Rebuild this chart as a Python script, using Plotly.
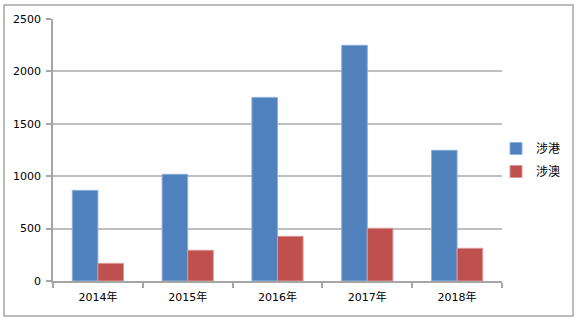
import plotly.graph_objects as go

categories = ["2014年", "2015年", "2016年", "2017年", "2018年"]
hk_values = [865, 1018, 1752, 2249, 1247]
mo_values = [168, 293, 426, 503, 312]
series_names = ["涉港", "涉澳"]
y_ticks = [0, 500, 1000, 1500, 2000, 2500]

W, H = 578, 322
L, R, T, B = 53, 76, 19, 41
pw, ph = W - L - R, H - T - B

def px_x(p):
    return (p - L) / pw

def px_y(p):
    return (H - B - p) / ph

fig = go.Figure()
fig.add_trace(go.Bar(x=categories, y=hk_values, name=series_names[0], legendgroup="a",
                     marker=dict(color="#4F81BD", line=dict(color="#8EB0DA", width=1))))
fig.add_trace(go.Bar(x=categories, y=mo_values, name=series_names[1], legendgroup="b",
                     marker=dict(color="#C0504D", line=dict(color="#DA9695", width=1))))

fig.update_layout(
    width=W, height=H,
    margin=dict(l=L, r=R, t=T, b=B, pad=0, autoexpand=False),
    paper_bgcolor="white", plot_bgcolor="white",
    barmode="group", bargap=0.43, bargroupgap=0,
    font=dict(family="DejaVu Sans, Noto Sans CJK SC", size=11, color="black"),
    showlegend=True,
    legend=dict(x=px_x(496), y=px_y(160), xanchor="left", yanchor="middle",
                font=dict(family="Noto Sans CJK SC", size=12, color="black"),
                tracegroupgap=4, bgcolor="rgba(0,0,0,0)"),
    shapes=[dict(type="rect", xref="paper", yref="paper",
                 x0=px_x(4), x1=px_x(573), y0=px_y(316), y1=px_y(5),
                 line=dict(color="#A6A6A6", width=1.5), fillcolor="rgba(0,0,0,0)", layer="below")],
)
fig.update_xaxes(
    type="category", showline=True, linecolor="#A6A6A6", linewidth=1.5,
    ticks="outside", tickson="boundaries", ticklen=5, tickcolor="#A6A6A6", tickwidth=1.5,
    showgrid=False, ticklabelstandoff=5,
    tickfont=dict(family="DejaVu Sans, Noto Sans CJK SC", size=11),
)
fig.update_yaxes(
    range=[0, 2500], tickvals=y_ticks, showline=True, linecolor="#A6A6A6", linewidth=1.5,
    ticks="outside", ticklen=5, tickcolor="#A6A6A6", tickwidth=1.5,
    showgrid=True, gridcolor="#BFBFBF", gridwidth=1.5, zeroline=False, ticklabelstandoff=3,
    tickfont=dict(family="DejaVu Sans", size=11),
)
fig.write_html("out.html", config={"displayModeBar": False},
               post_script="document.body.style.margin='0';")
